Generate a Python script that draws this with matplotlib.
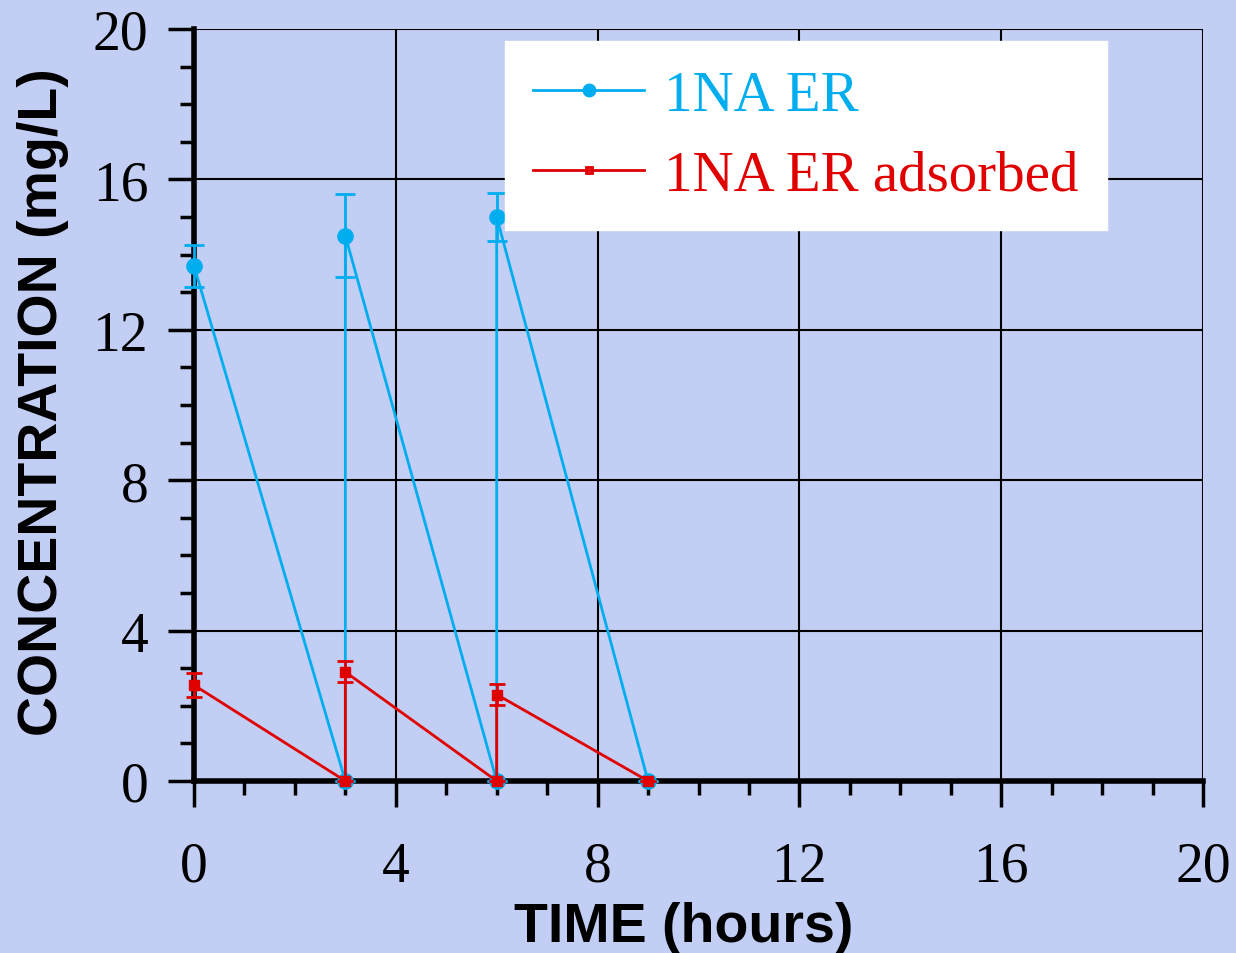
import numpy as np
import matplotlib
matplotlib.use("Agg")
from matplotlib import pyplot as plt
from matplotlib.ticker import MultipleLocator
from matplotlib.lines import Line2D

# data
time_h = [0, 3, 3, 6, 6, 9]
er_conc = [13.7, 0, 14.5, 0, 15.0, 0]
er_err = [0.55, 0, 1.1, 0, 0.63, 0]
ads_conc = [2.55, 0, 2.9, 0, 2.3, 0]
ads_err = [0.32, 0, 0.28, 0, 0.27, 0]

blue = "#00AEEF"
red = "#E00000"
bg = "#C2CEF4"

plt.rcParams["font.family"] = ["Liberation Serif", "DejaVu Serif"]

fig = plt.figure(figsize=(12.36, 9.54), dpi=100, facecolor=bg)
ax = fig.add_axes([194/1236, 1 - 782/954, 1009/1236, 752/954])
ax.set_facecolor(bg)

ax.errorbar(time_h, er_conc, yerr=er_err, color=blue, lw=2, marker="o",
            ms=11, capsize=7, capthick=2, elinewidth=2,
            clip_on=False, zorder=3)
ax.errorbar(time_h, ads_conc, yerr=ads_err, color=red, lw=2, marker="s",
            ms=6.5, capsize=6, capthick=2, elinewidth=2,
            clip_on=False, zorder=4)

ax.set_xlim(0, 20)
ax.set_ylim(0, 20)
ax.xaxis.set_major_locator(MultipleLocator(4))
ax.yaxis.set_major_locator(MultipleLocator(4))
ax.xaxis.set_minor_locator(MultipleLocator(1))
ax.yaxis.set_minor_locator(MultipleLocator(1))
ax.grid(True, which="major", color="black", lw=1.5, zorder=1)
ax.set_axisbelow(True)

for s in ["top", "right"]:
    ax.spines[s].set_visible(False)
for s in ["left", "bottom"]:
    ax.spines[s].set_linewidth(4)

ax.tick_params(which="major", direction="out", length=19, width=2.5,
               labelsize=40, colors="black")
ax.tick_params(which="minor", direction="out", length=10, width=2.5)
ax.tick_params(axis="x", which="major", pad=24)
ax.tick_params(axis="y", which="major", pad=14)

ax.set_xlabel("TIME (hours)", fontsize=40, fontweight="bold",
              family=["Liberation Sans", "DejaVu Sans"], labelpad=6)
ax.xaxis.label.set_x(0.485)
ax.set_ylabel("CONCENTRATION (mg/L)", fontsize=40, fontweight="bold",
              family=["Liberation Sans", "DejaVu Sans"], labelpad=17)
ax.yaxis.label.set_y(0.505)

handles = [Line2D([], [], color=blue, lw=2, marker="o", ms=9),
           Line2D([], [], color=red, lw=2, marker="s", ms=5, mfc="none", mew=2)]
leg = ax.legend(handles, ["1NA ER", "1NA ER adsorbed"],
                loc="upper left", bbox_to_anchor=(0.308, 0.984), fontsize=41,
                frameon=True, fancybox=False, edgecolor="white",
                facecolor="white", framealpha=1, labelcolor="linecolor",
                handlelength=1.95, handletextpad=0.35, borderpad=0.5,
                labelspacing=0.5, borderaxespad=0)
leg.set_zorder(5)

fig.savefig("out.png", dpi=100, facecolor=bg)
